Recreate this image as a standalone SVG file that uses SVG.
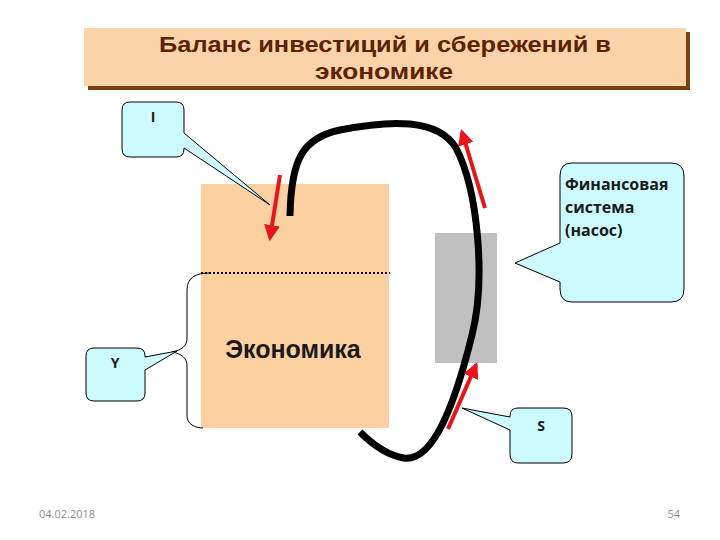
<svg xmlns="http://www.w3.org/2000/svg" width="720" height="540" viewBox="0 0 720 540">
<style>
.callout{fill:#ccfaff;stroke:#000;stroke-width:1}
.lbl{font-family:"Open Sans","Liberation Sans",sans-serif;font-weight:bold;fill:#1a1a1a}
.red{stroke:#e8141a;stroke-width:4;fill:none;marker-end:url(#ah)}
.foot{font-family:"Open Sans","Liberation Sans",sans-serif;font-size:11px;fill:#8c8c8c}
.ttl{font-family:"Liberation Sans",Arial,sans-serif;font-weight:bold;font-size:22px;fill:#5c2204}
</style>
<defs>
<marker id="ah" viewBox="0 0 10 10" refX="8" refY="5" markerWidth="4" markerHeight="4" orient="auto" markerUnits="strokeWidth">
<path d="M0,0 L10,5 L0,10 z" fill="#e8141a"/>
</marker>
</defs>
<rect width="720" height="540" fill="#fff"/>
<g id="title">
<rect x="88" y="32" width="602" height="58" fill="#7b3f10"/>
<rect x="84" y="28" width="602" height="58" fill="#fad3a8"/>
<text class="ttl" x="385" y="52" text-anchor="middle" textLength="452" lengthAdjust="spacingAndGlyphs">Баланс инвестиций и сбережений в</text>
<text class="ttl" x="384" y="79" text-anchor="middle" textLength="138" lengthAdjust="spacingAndGlyphs">экономике</text>
</g>
<g id="economy">
<rect x="201" y="184" width="188" height="244" fill="#fdd0a2"/>
<line x1="201" y1="273" x2="390" y2="273" stroke="#000" stroke-width="2" stroke-dasharray="2,2"/>
<text x="293" y="358" text-anchor="middle" font-family="'Liberation Sans',Arial,sans-serif" font-weight="bold" font-size="25" fill="#1a1a1a">Экономика</text>
</g>
<g id="pump">
<rect x="435" y="233" width="62" height="130" fill="#c0c0c0"/>
</g>
<g id="connectors">
<path d="M290,216 C291,160 302,138 340,130 C390,120 438,118 456,148 C478,190 486,280 472,335 C456,400 434,462 404,458 C385,455 370,442 360,432" fill="none" stroke="#000" stroke-width="7" stroke-linecap="butt"/>
<line class="red" x1="280" y1="175" x2="270" y2="238"/>
<line class="red" x1="485" y1="208" x2="462" y2="132"/>
<line class="red" x1="448" y1="429" x2="476" y2="365"/>
<path d="M210,273 C195,273 187,278 187,290 L187,338 C187,346 182,350 172,352 C182,354 187,358 187,366 L187,416 C187,424 195,428 203,428" fill="none" stroke="#000" stroke-width="1"/>
</g>
<g id="callout-I">
<path class="callout" d="M130,102 L176,102 Q184,102 184,110 L184,133 L270,205 L184,148 L184,149 Q184,157 176,157 L130,157 Q122,157 122,149 L122,110 Q122,102 130,102 Z"/>
<text class="lbl" x="153" y="122" text-anchor="middle" font-size="14">I</text>
</g>
<g id="callout-fin">
<path class="callout" d="M572,163 L671,163 Q684,163 684,176 L684,289 Q684,302 671,302 L572,302 Q560,302 560,289 L560,282 L515,263 L560,243 L560,176 Q560,163 572,163 Z"/>
<text class="lbl" x="565" y="190" font-size="16">Финансовая</text>
<text class="lbl" x="565" y="213" font-size="16">система</text>
<text class="lbl" x="565" y="236" font-size="16">(насос)</text>
</g>
<g id="callout-Y">
<path class="callout" d="M94,348 L137,348 Q145,348 145,356 L145,357 L177,351 L145,370 L145,393 Q145,401 137,401 L94,401 Q86,401 86,393 L86,356 Q86,348 94,348 Z"/>
<text class="lbl" x="115" y="368" text-anchor="middle" font-size="14">Y</text>
</g>
<g id="callout-S">
<path class="callout" d="M518,408 L563,408 Q572,408 572,416 L572,454 Q572,463 563,463 L518,463 Q510,463 510,454 L510,430 L462,408 L510,417 L510,416 Q510,408 518,408 Z"/>
<text class="lbl" x="541" y="431" text-anchor="middle" font-size="14">S</text>
</g>
<text class="foot" x="39" y="518">04.02.2018</text>
<text class="foot" x="680" y="518" text-anchor="end">54</text>
</svg>
